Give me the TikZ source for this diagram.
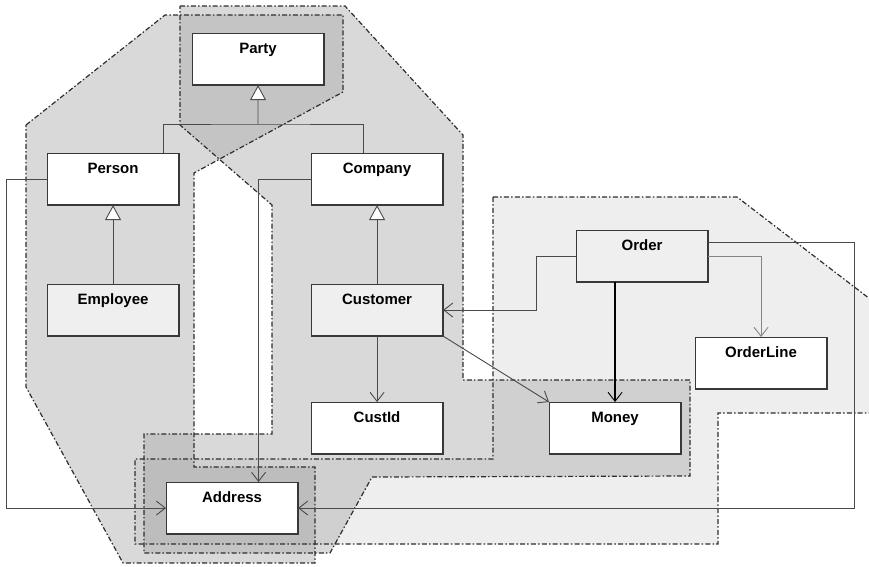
\documentclass[tikz,border=0pt]{standalone}
\usepackage{fontspec}
\setmainfont{Liberation Sans}
\usetikzlibrary{arrows.meta}

\definecolor{cOrd}{HTML}{EEEEEE}
\definecolor{cOne}{HTML}{D9D9D9}
\definecolor{cOrdOne}{HTML}{D0D0D0}
\definecolor{cTwo}{HTML}{C4C4C4}
\definecolor{cThree}{HTML}{BDBDBD}
\definecolor{boxEdge}{HTML}{383838}
\definecolor{lineGray}{HTML}{4A4A4A}
\definecolor{lightLine}{HTML}{858585}
\definecolor{zoneEdge}{HTML}{2E2E2E}
\definecolor{classTint}{HTML}{EFEFEF}

\tikzset{
  % package outlines
  leftzone/.style={insert path={(26,125) -- (165,15) -- (343,15) -- (343,92) -- (194,173)
      -- (194,467) -- (315,467) -- (315,563) -- (123,563) -- (26,387) -- cycle}},
  rightzone/.style={insert path={(180,6) -- (345,6) -- (463,135) -- (463,380) -- (690,380)
      -- (690,476) -- (372,477) -- (330,553) -- (144,553) -- (144,434) -- (272,434)
      -- (272,205) -- (180,125) -- cycle}},
  orderzone/.style={insert path={(493,197) -- (737,197) -- (900,322) -- (900,413)
      -- (718,413) -- (718,544) -- (135,544) -- (135,459) -- (493,459) -- cycle}},
  zoneline/.style={draw=zoneEdge, line width=1.2pt, dash pattern=on 5pt off 2.2pt on 1.5pt off 2.2pt},
  % classes
  cls/.style={draw=boxEdge, line width=1.1pt, fill=white, minimum width=131pt,
      minimum height=51pt, inner sep=0pt, anchor=north west,
      font=\bfseries\fontsize{15}{18}\selectfont, text height=20pt, text depth=31pt},
  tinted/.style={fill=classTint},
  % connectors
  link/.style={draw=lineGray, line width=0.9pt},
  assoc/.style={link, -{Straight Barb[length=9pt,width=14pt]}},
  strongassoc/.style={draw=black, line width=2.6pt,
      -{Straight Barb[length=9pt,width=14pt,line width=0.9pt]}},
  gen/.style={link, -{Triangle[length=15pt,width=16pt,fill=white]}},
}

\begin{document}
\begin{tikzpicture}[x=1pt,y=-1pt]
\useasboundingbox (0,0) rectangle (869,566);
\clip (0,0) rectangle (869,566);
\fill[white] (0,0) rectangle (869,566);

% package areas and their overlaps
\fill[cOrd, orderzone];
\fill[cOne, leftzone];
\fill[cOne, rightzone];
\begin{scope}
  \path[clip, orderzone];
  \fill[cOrdOne, leftzone];
  \fill[cOrdOne, rightzone];
\end{scope}
\begin{scope}
  \path[clip, leftzone];
  \fill[cTwo, rightzone];
\end{scope}
\begin{scope}
  \path[clip, leftzone];
  \path[clip, rightzone];
  \fill[cThree, orderzone];
\end{scope}
\draw[zoneline, orderzone];
\draw[zoneline, leftzone];
\draw[zoneline, rightzone];

% classes
\node[cls] (party)     at (192,33)  {Party};
\node[cls] (person)    at (47,153)  {Person};
\node[cls] (company)   at (311,153) {Company};
\node[cls, tinted] (employee) at (47,284)  {Employee};
\node[cls, tinted] (customer) at (311,284) {Customer};
\node[cls] (custid)    at (311,402) {CustId};
\node[cls] (address)   at (166,482) {Address};
\node[cls, tinted] (order) at (576,230) {Order};
\node[cls] (orderline) at (695,337) {OrderLine};
\node[cls] (money)     at (549,402) {Money};

\foreach \n in {party,person,company,employee,customer,custid,address,order,orderline,money}
  \draw[boxEdge, line width=1.7pt] (\n.south west) -- (\n.south east) -- (\n.north east);

% generalisation tree
\coordinate (gj) at (258,124);
\draw[gen] (gj) -- (party.south);
\draw[link] ([xshift=50.5pt]person.north) |- (gj) -| ([xshift=-14pt]company.north);
\draw[gen] (employee.north) -- (person.south);
\draw[gen] (customer.north) -- (company.south);

% associations
\draw[assoc] (person.west) -- ++(-41,0) |- (address.west);
\draw[assoc] (company.west) -| ([xshift=26.5pt]address.north);
\draw[assoc] (customer.south) -- (custid.north);
\draw[assoc] (customer.south east) -- (money.north west);
\draw[assoc] (order.west) -- ++(-40,0) |- (customer.east);
\draw[strongassoc] (money.north |- order.south) -- (money.north);
\draw[assoc, draw=lightLine] (order.east) -| (orderline.north);
\draw[assoc] ([yshift=13.5pt]order.east) -- ++(146,0) |- (address.east);
\end{tikzpicture}
\end{document}
